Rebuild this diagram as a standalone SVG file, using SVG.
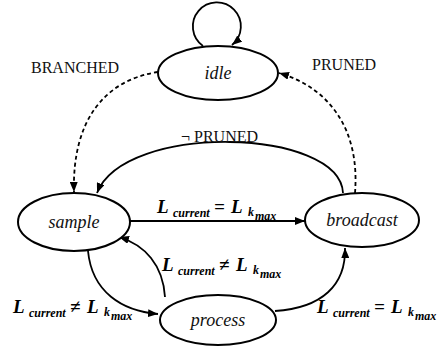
<svg xmlns="http://www.w3.org/2000/svg" width="444" height="348" viewBox="0 0 444 348">
  <style>
    .node { fill: #ffffff; stroke: #000000; stroke-width: 2; }
    .name { font-family: "Liberation Serif", "Times New Roman", serif; font-style: italic; font-size: 18px; fill: #111111; text-anchor: middle; }
    .edge { fill: none; stroke: #000000; stroke-width: 1.8; }
    .dash { stroke-dasharray: 4 3; }
    .lbl { font-family: "Liberation Serif", "Times New Roman", serif; font-size: 16px; fill: #111111; }
    .cond { font-family: "Liberation Serif", "Times New Roman", serif; font-size: 19px; font-weight: bold; font-style: italic; fill: #000000; }
    .sub { font-size: 12px; }
  </style>
  <defs>
    <marker id="arrow" viewBox="0 0 10 8" refX="10" refY="4" markerWidth="10" markerHeight="8" markerUnits="userSpaceOnUse" orient="auto">
      <path d="M0,0 L10,4 L0,8 z" fill="#000000"/>
    </marker>
  </defs>

  <!-- transitions -->
  <g id="connectors">
    <!-- idle self-loop -->
    <path class="edge" d="M203,46 A24,24 0 1 1 232,45" marker-end="url(#arrow)"/>
    <!-- idle -> sample (BRANCHED) -->
    <path class="edge dash" d="M158,72 C105,80 72,120 74,192" marker-end="url(#arrow)"/>
    <!-- broadcast -> idle (PRUNED) -->
    <path class="edge dash" d="M355,193 C360,130 330,88 279,73" marker-end="url(#arrow)"/>
    <!-- broadcast -> sample (not PRUNED) -->
    <path class="edge" d="M343,193 C340,128 125,122 97,193" marker-end="url(#arrow)"/>
    <!-- sample -> broadcast -->
    <path class="edge" d="M130,221 L305,221" marker-end="url(#arrow)"/>
    <!-- process -> sample -->
    <path class="edge" d="M165,297 C163,265 145,245 119,237" marker-end="url(#arrow)"/>
    <!-- sample -> process -->
    <path class="edge" d="M88,251 C92,292 122,311 158,314" marker-end="url(#arrow)"/>
    <!-- process -> broadcast -->
    <path class="edge" d="M275,311 C322,308 346,285 345,248" marker-end="url(#arrow)"/>
  </g>

  <!-- states -->
  <g id="idle">
    <ellipse class="node" cx="218" cy="73" rx="60" ry="27"/>
    <text class="name" x="218" y="79">idle</text>
  </g>
  <g id="sample">
    <ellipse class="node" cx="74" cy="222" rx="56" ry="29"/>
    <text class="name" x="74" y="228">sample</text>
  </g>
  <g id="broadcast">
    <ellipse class="node" cx="362" cy="220" rx="57" ry="27"/>
    <text class="name" x="362" y="226">broadcast</text>
  </g>
  <g id="process">
    <ellipse class="node" cx="218" cy="320" rx="58" ry="25"/>
    <text class="name" x="218" y="326">process</text>
  </g>

  <!-- transition labels -->
  <g id="labels">
    <text class="lbl" x="31" y="73">BRANCHED</text>
    <text class="lbl" x="312" y="70">PRUNED</text>
    <text class="lbl" x="181" y="142">¬ PRUNED</text>

    <text class="cond" x="157" y="213">L<tspan class="sub" x="173" y="217">current</tspan><tspan x="214" y="213">=</tspan><tspan x="231" y="213">L</tspan><tspan class="sub" x="248" y="216">k</tspan><tspan class="sub" x="255" y="220">max</tspan></text>

    <text class="cond" x="162" y="271">L<tspan class="sub" x="178" y="275">current</tspan><tspan x="219" y="271">≠</tspan><tspan x="236" y="271">L</tspan><tspan class="sub" x="253" y="274">k</tspan><tspan class="sub" x="260" y="278">max</tspan></text>

    <text class="cond" x="13" y="313">L<tspan class="sub" x="29" y="317">current</tspan><tspan x="70" y="313">≠</tspan><tspan x="87" y="313">L</tspan><tspan class="sub" x="104" y="316">k</tspan><tspan class="sub" x="111" y="320">max</tspan></text>

    <text class="cond" x="317" y="313">L<tspan class="sub" x="333" y="317">current</tspan><tspan x="374" y="313">=</tspan><tspan x="391" y="313">L</tspan><tspan class="sub" x="408" y="316">k</tspan><tspan class="sub" x="415" y="320">max</tspan></text>
  </g>
</svg>
